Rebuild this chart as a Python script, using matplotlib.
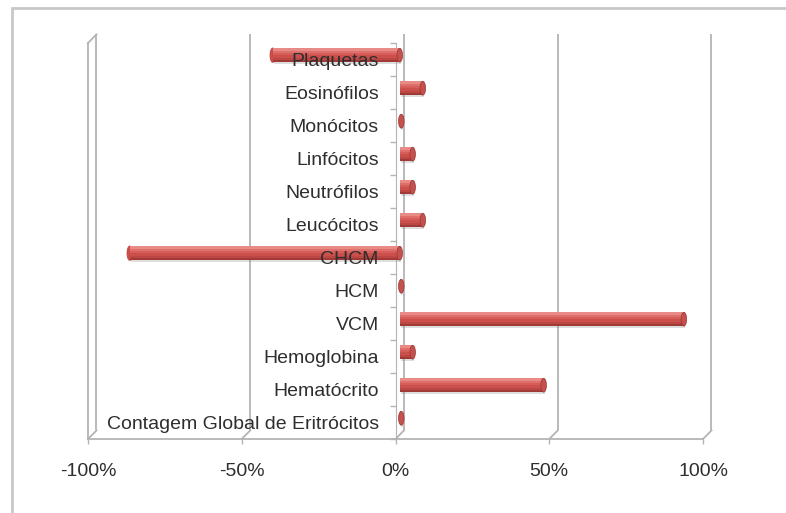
import numpy as np
import matplotlib.pyplot as plt
from matplotlib.patches import Ellipse, Rectangle

# dados (variação percentual por parâmetro)
categorias = ['Contagem Global de Eritrócitos', 'Hematócrito', 'Hemoglobina', 'VCM', 'HCM', 'CHCM',
              'Leucócitos', 'Neutrófilos', 'Linfócitos', 'Monócitos', 'Eosinófilos', 'Plaquetas']
variacao = [0.5, 46.8, 4.2, 92.4, 0.5, -87.8, 7.5, 4.2, 4.2, 0.5, 7.5, -41.3]
ticks_x = [-100, -50, 0, 50, 100]
ticks_lbl = ['-100%', '-50%', '0%', '50%', '100%']

plt.rcParams['font.family'] = ['Liberation Sans', 'DejaVu Sans']

fig = plt.figure(figsize=(7.86, 5.13), dpi=100)
ax = fig.add_axes([88/786, (513-439)/513, 615/786, 396/513])
ax.set_xlim(-100, 100)
ax.set_ylim(-0.5, 11.5)

DX, DY = 2.76, 0.26   # profundidade do efeito 3D
cinza = '#B4B4B4'
texto = '#2E2E2E'

# paredes e chao
ax.vlines(np.array(ticks_x) + DX, -0.5 + DY, 11.5 + DY, color=cinza, lw=1.3, clip_on=False, zorder=0.5)
for xt in ticks_x:
    ax.plot([xt, xt + DX], [-0.5, -0.5 + DY], color=cinza, lw=1.3, clip_on=False, zorder=0.5)
ax.plot([-100, -100], [-0.5, 11.5], color=cinza, lw=1.3, clip_on=False, zorder=0.5)
ax.plot([-100, -100 + DX], [11.5, 11.5 + DY], color=cinza, lw=1.3, clip_on=False, zorder=0.5)

# barras cilindricas
y = np.arange(len(categorias))
h = 0.42
ax.barh(y + DY/2 - 0.07, variacao, height=h, left=DX/2 + 0.4, color='#7F7F7F', alpha=0.25,
        linewidth=0, zorder=2)
for v, yy in zip(variacao, y):
    if v < 0:
        ax.add_patch(Ellipse((v + DX/2, yy + DY/2), 1.6, h, color='#C94E4A', zorder=2.9))
cores = ['#E88A86', '#DF6F6B', '#D65D59', '#CB504C', '#BC4643', '#A03A37']
n = len(cores)
for k, c in enumerate(cores):
    yk = y + DY/2 + h/2 - (k + 0.5) * h/n
    ax.barh(yk, variacao, height=h/n, left=DX/2, color=c, linewidth=0, zorder=3)
for v, yy in zip(variacao, y):
    ax.add_patch(Ellipse((max(v, 0) + DX/2, yy + DY/2), 1.8, h, facecolor='#C4514D',
                         edgecolor='#9A3633', lw=0.5, zorder=4))

# eixos
ax.set_yticks(y, categorias)
ax.set_yticks(np.arange(-0.5, 12, 1), minor=True)
ax.tick_params(axis='y', which='major', length=0, pad=12, labelsize=14, labelcolor=texto)
ax.tick_params(axis='y', which='minor', length=4.3, width=1, color=cinza, direction='out')
ax.set_xticks(ticks_x, ticks_lbl)
ax.tick_params(axis='x', length=3.6, width=1, color=cinza, pad=13.5, labelsize=14, labelcolor=texto)
ax.yaxis.set_zorder(5)

for s in ['top', 'right']:
    ax.spines[s].set_visible(False)
ax.spines['left'].set_position(('data', 0))
ax.spines['left'].set_color(cinza)
ax.spines['left'].set_zorder(1)
ax.spines['bottom'].set_color(cinza)
ax.spines['bottom'].set_linewidth(1.3)
ax.patch.set_visible(False)

fig.add_artist(Rectangle((12/786, -0.05), 1.0, 1 - 8/513 + 0.05, transform=fig.transFigure,
                         fill=False, edgecolor='#C8C8C8', lw=2))

plt.savefig('out.png', dpi=100)
